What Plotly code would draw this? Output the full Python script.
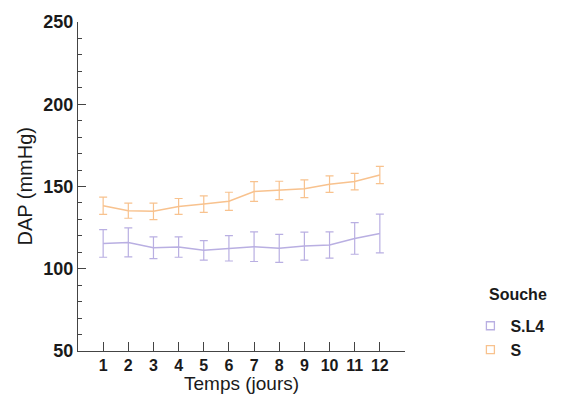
import plotly.graph_objects as go

# Daily diastolic pressure (mean ± error) for each strain
days = [1, 2, 3, 4, 5, 6, 7, 8, 9, 10, 11, 12]

sl4_mean = [115.4, 116.0, 112.8, 113.2, 111.2, 112.4, 113.4, 112.4, 113.8, 114.4, 118.4, 121.4]
sl4_err = [8.4, 8.8, 6.6, 6.2, 5.9, 7.7, 9.0, 8.5, 8.5, 8.0, 9.6, 11.8]

s_mean = [138.3, 135.3, 134.9, 137.9, 139.3, 141.0, 147.0, 147.6, 148.6, 151.4, 153.0, 157.0]
s_err = [5.3, 4.6, 5.0, 4.8, 5.0, 5.5, 6.0, 5.6, 5.4, 5.0, 5.0, 5.2]

x_ticks = [1, 2, 3, 4, 5, 6, 7, 8, 9, 10, 11, 12, 13]
x_tick_text = ["1", "2", "3", "4", "5", "6", "7", "8", "9", "10", "11", "12", ""]
y_ticks = [50, 100, 150, 200, 250]

purple = "#b9afe2"
orange = "#f8c28e"
font_family = "Liberation Sans, Arial, sans-serif"
text_color = "#1a1a1a"
axis_color = "#444444"

fig = go.Figure()

for name, mean, err, color in [("S.L4", sl4_mean, sl4_err, purple),
                                ("S", s_mean, s_err, orange)]:
    fig.add_trace(go.Scatter(
        x=days, y=mean, mode="lines", name=name, showlegend=False,
        line=dict(color=color, width=1.5),
        error_y=dict(type="data", array=err, visible=True,
                     color=color, thickness=1.2, width=4),
    ))

# Legend entries drawn as small open squares
for name, color in [("S.L4", purple), ("S", orange)]:
    fig.add_trace(go.Scatter(
        x=[None], y=[None], mode="markers", name=name,
        marker=dict(symbol="square-open", size=8, color=color,
                    line=dict(width=1.3, color=color)),
    ))

fig.update_layout(
    width=561, height=404,
    margin=dict(l=78, r=150, t=19, b=53),
    paper_bgcolor="white", plot_bgcolor="white",
    font=dict(family=font_family, color=text_color),
    showlegend=True,
    legend=dict(x=1.2, xanchor="left", y=0.04, yanchor="middle",
                font=dict(size=16, weight="bold", color=text_color),
                tracegroupgap=0, itemwidth=30),
)

# Legend heading and axis titles
fig.add_annotation(text="<b>Souche</b>", xref="paper", yref="paper",
                   x=1.25, y=0.172, xanchor="left", yanchor="middle",
                   showarrow=False, font=dict(size=16, color=text_color))
fig.add_annotation(text="Temps (jours)", xref="paper", yref="paper",
                   x=0.5, y=-0.1, xanchor="center", yanchor="middle",
                   showarrow=False, font=dict(size=19, color=text_color))
fig.add_annotation(text="DAP (mmHg)", xref="paper", yref="paper",
                   x=-0.165, y=0.5, xanchor="center", yanchor="middle",
                   textangle=-90, showarrow=False,
                   font=dict(size=20, color=text_color))

fig.update_xaxes(
    range=[0, 13], tickmode="array", tickvals=x_ticks, ticktext=x_tick_text,
    ticks="inside", ticklen=9, tickcolor=axis_color, tickwidth=1,
    showline=True, linecolor=axis_color, linewidth=1,
    showgrid=False, zeroline=False,
    tickfont=dict(size=16, weight="bold", color=text_color),
)

fig.update_yaxes(
    range=[50, 250], tickmode="array", tickvals=y_ticks,
    ticks="inside", ticklen=8, tickcolor=axis_color, tickwidth=1,
    minor=dict(dtick=10, ticks="inside", ticklen=4, tickcolor=axis_color,
               showgrid=False),
    showline=True, linecolor=axis_color, linewidth=1,
    showgrid=False, zeroline=False,
    tickfont=dict(size=18, weight="bold", color=text_color),
)

fig.write_html("out.html")
